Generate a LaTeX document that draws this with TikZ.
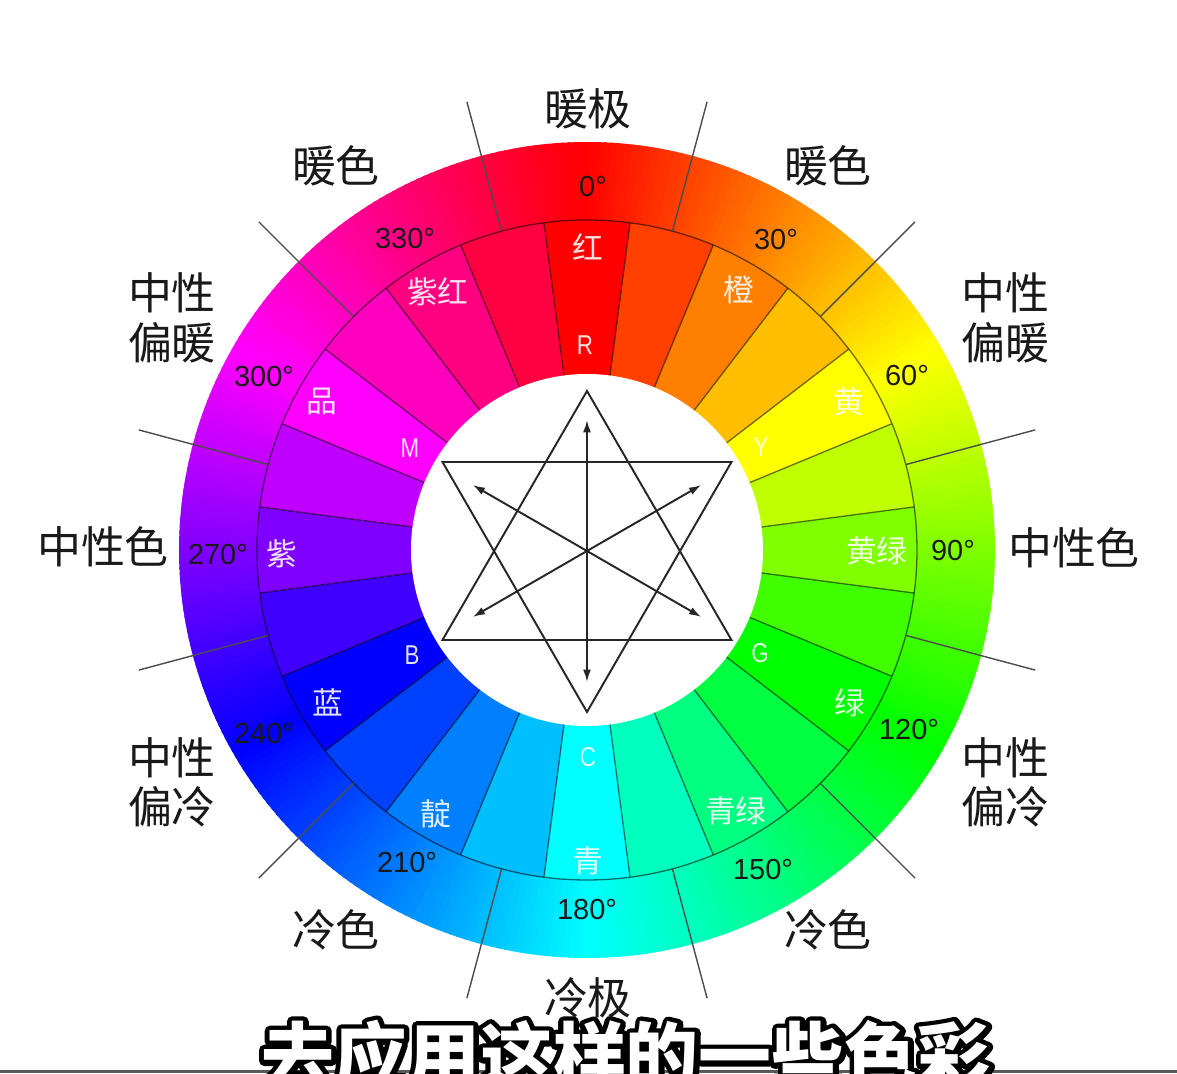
\documentclass[tikz,border=0pt]{standalone}
\usepackage{fontspec}
\newfontfamily\cjkfont{Noto Sans CJK SC}
\newfontfamily\latfont{Liberation Sans}
\newfontfamily\narrowfont{Liberation Sans}[FakeStretch=0.82]
\usetikzlibrary{arrows.meta}
\begin{document}
\begin{tikzpicture}[x=0.02cm,y=0.02cm,
  zonelbl/.style={font=\cjkfont\fontsize{25}{30}\selectfont, text=black!90, inner sep=0pt},
  deglbl/.style={font=\latfont\fontsize{16.5}{20}\selectfont, text=black!90, inner sep=0pt},
  hanlbl/.style={font=\cjkfont\fontsize{17.5}{20}\selectfont, text=white, text opacity=0.88, inner sep=0pt},
  letlbl/.style={font=\narrowfont\fontsize{15.5}{18}\selectfont, text=white, text opacity=0.88, inner sep=0pt},
  segline/.style={draw=black, draw opacity=0.55, line width=0.75pt},
  sepline/.style={draw=black!70, line width=0.8pt},
  starline/.style={draw=black!85, line width=1.1pt, line join=miter},
  dblarrow/.style={draw=black!85, line width=1.1pt, {Latex[length=7pt,width=4.5pt]}-{Latex[length=7pt,width=4.5pt]}},
  subtxt/.style={font=\cjkfont\bfseries\fontsize{41.5}{48}\selectfont, inner sep=0pt, anchor=base},
]
\useasboundingbox (-587,-524) rectangle (590,550);
\fill[white] (-587,-524) rectangle (590,550);
% outer hue ring
\foreach \a in {0,...,359}{
  \pgfmathsetmacro{\phs}{90-\a+0.7}
  \pgfmathsetmacro{\phe}{90-\a-0.7}
  \definecolor{huec}{Hsb}{\a,1,1}
  \fill[huec] (\phs:408) arc[start angle=\phs, end angle=\phe, radius=408] -- (\phe:320) arc[start angle=\phe, end angle=\phs, radius=320] -- cycle;
}
% 24 segments
\foreach \k in {0,...,23}{
  \pgfmathsetmacro{\hue}{15*\k}
  \pgfmathsetmacro{\phs}{90-15*\k+7.5}
  \pgfmathsetmacro{\phe}{90-15*\k-7.5}
  \definecolor{segc}{Hsb}{\hue,1,1}
  \fill[segc] (\phs:330) arc[start angle=\phs, end angle=\phe, radius=330] -- (\phe:170) arc[start angle=\phe, end angle=\phs, radius=170] -- cycle;
}
\foreach \k in {0,...,23}{
  \pgfmathsetmacro{\ph}{97.5-15*\k}
  \draw[segline] (\ph:170) -- (\ph:330);
}
\draw[segline] (0,0) circle[radius=330];
\foreach \k in {0,...,11}{
  \pgfmathsetmacro{\ph}{75-30*\k}
  \draw[sepline] (\ph:330) -- (\ph:464);
}
\fill[white] (0,0) circle[radius=176];
% star
\coordinate (U1) at (0,159);
\coordinate (U2) at (-144.5,-90);
\coordinate (U3) at (144.5,-90);
\coordinate (D1) at (0,-162);
\coordinate (D2) at (-144.5,88);
\coordinate (D3) at (144.5,88);
\draw[starline] (U1) -- (U2) -- (U3) -- cycle;
\draw[starline] (D1) -- (D2) -- (D3) -- cycle;
\coordinate (V1) at (0,130);
\coordinate (V2) at (0,-132);
\coordinate (P1) at (114.3,65);
\coordinate (P2) at (-114.3,-67);
\coordinate (Q1) at (-114.3,65);
\coordinate (Q2) at (114.3,-67);
\draw[dblarrow] (V1) -- (V2);
\draw[dblarrow] (P1) -- (P2);
\draw[dblarrow] (Q1) -- (Q2);
% zone labels
\node[zonelbl] (wp) at (1,441) {暖极};
\node[zonelbl] (wcl) at (-251,384) {暖色};
\node[zonelbl] (wcr) at (241,384) {暖色};
\node[zonelbl] (nwl1) at (-415,257) {中性};
\node[zonelbl] (nwl2) at (-415,207) {偏暖};
\node[zonelbl] (nwr1) at (418,257) {中性};
\node[zonelbl] (nwr2) at (418,207) {偏暖};
\node[zonelbl] (nl) at (-484,3) {中性色};
\node[zonelbl] (nr) at (487,2) {中性色};
\node[zonelbl] (ncl1) at (-415,-208) {中性};
\node[zonelbl] (ncl2) at (-415,-257) {偏冷};
\node[zonelbl] (ncr1) at (418,-208) {中性};
\node[zonelbl] (ncr2) at (418,-257) {偏冷};
\node[zonelbl] (ccl) at (-251,-380) {冷色};
\node[zonelbl] (ccr) at (241,-380) {冷色};
\node[zonelbl] (cp) at (1,-448) {冷极};
% degree labels
\node[deglbl] (d0) at (6,363) {0°};
\node[deglbl] (d30) at (189,310) {30°};
\node[deglbl] (d60) at (320,174) {60°};
\node[deglbl] (d90) at (366,-1) {90°};
\node[deglbl] (d120) at (322,-180) {120°};
\node[deglbl] (d150) at (176,-320) {150°};
\node[deglbl] (d180) at (0,-360) {180°};
\node[deglbl] (d210) at (-180,-313) {210°};
\node[deglbl] (d240) at (-323,-184) {240°};
\node[deglbl] (d270) at (-369,-5) {270°};
\node[deglbl] (d300) at (-323,173) {300°};
\node[deglbl] (d330) at (-182,311) {330°};
% segment labels
\node[hanlbl] (s0) at (1,303) {红};
\node[hanlbl] (s330) at (-149,258) {紫红};
\node[hanlbl] (s30) at (152,260) {橙};
\node[hanlbl] (s60) at (262,148) {黄};
\node[hanlbl] (s90) at (290,-1) {黄绿};
\node[hanlbl] (s120) at (263,-153) {绿};
\node[hanlbl] (s150) at (149,-261) {青绿};
\node[hanlbl] (s180) at (1,-311) {青};
\node[hanlbl] (s210) at (-151,-264) {靛};
\node[hanlbl] (s240) at (-259,-152) {蓝};
\node[hanlbl] (s270) at (-305,-4) {紫};
\node[hanlbl] (s300) at (-265,149) {品};
\node[letlbl] (lR) at (-2,205) {R};
\node[letlbl] (lY) at (174,103) {Y};
\node[letlbl] (lG) at (173,-103) {G};
\node[letlbl] (lC) at (1,-207) {C};
\node[letlbl] (lB) at (-175,-105) {B};
\node[letlbl] (lM) at (-177,102) {M};
% bottom frame line
\draw[black!65, line width=1.2pt] (-587,-521.5) -- (590,-521.5);
% subtitle: black stroked copy under a white fill
\node[subtxt, text=black] (sbo) at (39,-534) {\special{pdf:literal direct 2 Tr 6 w 1 j}去应用这样的一些色彩\special{pdf:literal direct 0 Tr 1 w}};
\node[subtxt, text=white] (sub) at (39,-534) {去应用这样的一些色彩};
\end{tikzpicture}
\end{document}
